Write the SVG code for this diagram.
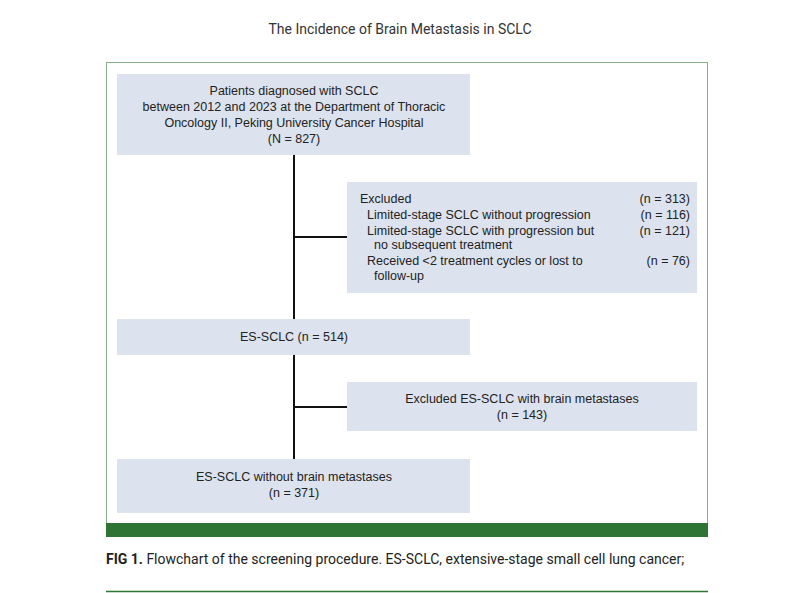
<svg xmlns="http://www.w3.org/2000/svg" width="800" height="593" viewBox="0 0 800 593">
<style>
.b{fill:#dde3ee}
.t{font-family:"Liberation Sans",Arial,sans-serif;font-size:12.5px;fill:#222}
.c{text-anchor:middle}
.r{text-anchor:end}
.ln{stroke:#111;stroke-width:2;fill:none}
</style>
<rect width="800" height="593" fill="#fff"/>
<text x="400" y="34" class="c" style="font-family:Roboto,'Liberation Sans',sans-serif;font-size:14px;fill:#333">The Incidence of Brain Metastasis in SCLC</text>
<rect x="106.5" y="62.5" width="601" height="474" fill="#fff" stroke="#8aae8a"/>
<rect x="106" y="523" width="602" height="14" fill="#2f7434"/>
<g id="connectors">
<path class="ln" d="M294 155V459M294 237H347M294 407H347"/>
</g>
<g id="n1"><rect class="b" x="117" y="74" width="353" height="81"/>
<text class="t c" x="294" y="95">Patients diagnosed with SCLC</text>
<text class="t c" x="294" y="111">between 2012 and 2023 at the Department of Thoracic</text>
<text class="t c" x="294" y="127">Oncology II, Peking University Cancer Hospital</text>
<text class="t c" x="294" y="143">(N = 827)</text></g>
<g id="n2"><rect class="b" x="347" y="182" width="350" height="111"/>
<text class="t" x="360" y="203">Excluded</text><text class="t r" x="690" y="203">(n = 313)</text>
<text class="t" x="367" y="219">Limited-stage SCLC without progression</text><text class="t r" x="690" y="219">(n = 116)</text>
<text class="t" x="367" y="235">Limited-stage SCLC with progression but</text><text class="t r" x="690" y="235">(n = 121)</text>
<text class="t" x="374" y="249">no subsequent treatment</text>
<text class="t" x="367" y="265">Received &lt;2 treatment cycles or lost to</text><text class="t r" x="690" y="265">(n = 76)</text>
<text class="t" x="374" y="280">follow-up</text></g>
<g id="n3"><rect class="b" x="117" y="319" width="353" height="36"/>
<text class="t c" x="294" y="341">ES-SCLC (n = 514)</text></g>
<g id="n4"><rect class="b" x="347" y="382" width="350" height="49"/>
<text class="t c" x="522" y="403">Excluded ES-SCLC with brain metastases</text>
<text class="t c" x="522" y="419">(n = 143)</text></g>
<g id="n5"><rect class="b" x="117" y="459" width="353" height="54"/>
<text class="t c" x="294" y="481">ES-SCLC without brain metastases</text>
<text class="t c" x="294" y="497">(n = 371)</text></g>
<text x="106" y="564" style="font-family:Roboto,'Liberation Sans',sans-serif;font-size:14px;fill:#222"><tspan font-weight="bold">FIG 1.</tspan>  Flowchart of the screening procedure. ES-SCLC, extensive-stage small cell lung cancer;</text>
<line x1="106" y1="591.5" x2="708" y2="591.5" stroke="#2f7434" stroke-width="1.5"/>
</svg>
